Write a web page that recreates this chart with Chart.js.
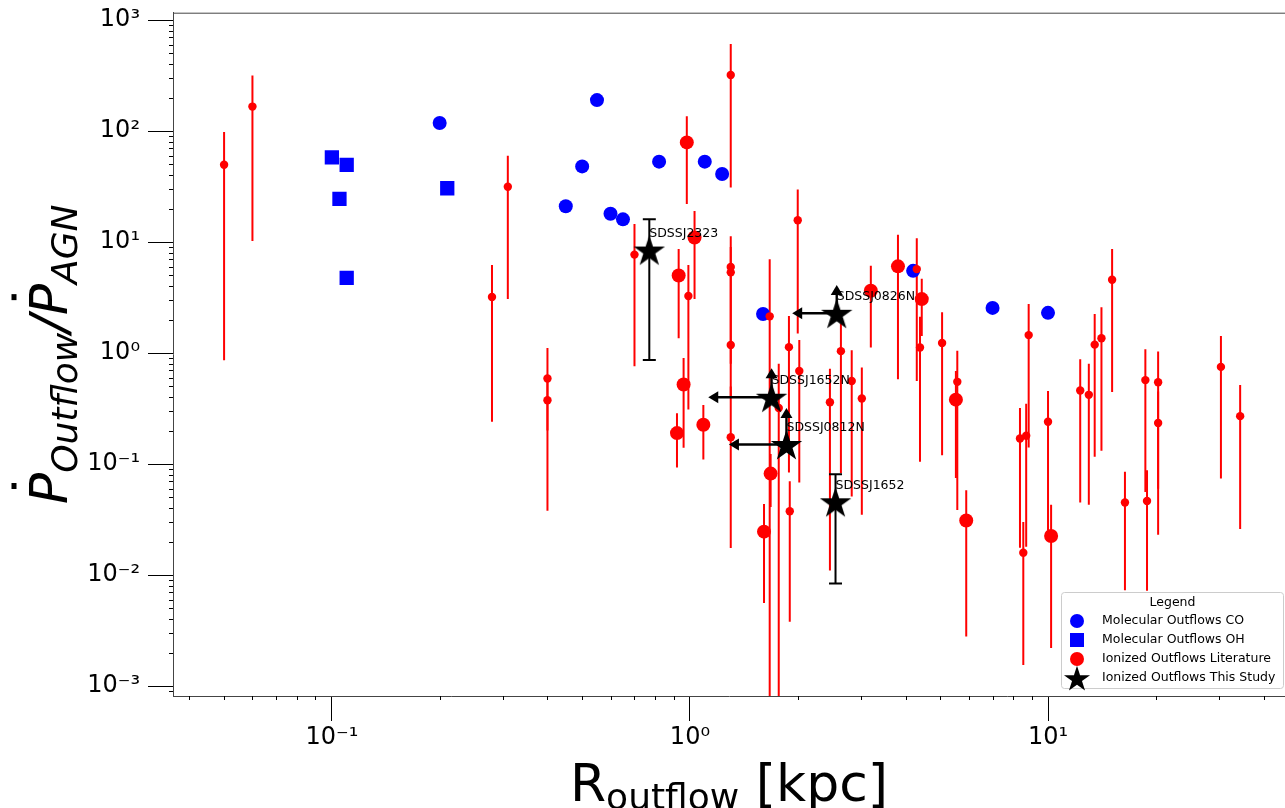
<!DOCTYPE html>
<html>
<head>
<meta charset="utf-8">
<script src="https://cdn.jsdelivr.net/npm/chart.js@4"></script>
<style>
  html, body { margin: 0; padding: 0; background: #fff; }
  #wrap { width: 1285px; height: 808px; }
</style>
</head>
<body>
<div id="wrap"><canvas id="chart" width="1285" height="808"></canvas></div>
<script>
// values (R in kpc, P = Pdot_outflow / Pdot_AGN)

// molecular outflows, CO
const coR = [0.2, 0.55, 0.50, 0.45, 0.82, 1.10, 1.23, 0.60, 0.65, 1.6, 4.2, 7.0, 10.0];
const coP = [118, 190, 48, 21, 53, 53, 41, 18, 16, 2.25, 5.5, 2.55, 2.3];

// molecular outflows, OH
const ohR = [0.1, 0.11, 0.105, 0.11, 0.21];
const ohP = [58, 49.5, 24.5, 4.75, 30.5];

// ionized outflows from the literature, with error bar ends
const litR = [0.05, 0.06, 0.28, 0.31, 0.40, 0.40, 0.70, 0.98, 1.03, 0.93, 0.99, 0.96,
  1.30, 1.30, 1.30, 1.30, 1.30, 1.67, 1.68, 1.77, 1.61, 1.89, 1.90, 2.0, 2.02, 2.46,
  2.64, 2.83, 3.02, 3.2, 3.81, 4.3, 4.44, 4.39, 5.06, 5.58, 5.53, 5.91, 8.35, 8.69,
  8.53, 8.83, 10.0, 10.2, 12.3, 13.0, 13.5, 14.1, 15.1, 16.4, 18.7, 18.9, 20.3, 20.3,
  30.4, 34.4, 1.09, 0.92];
const litP = [49.7, 166, 3.2, 31.5, 0.59, 0.375, 7.7, 79, 11, 5.0, 3.26, 0.52,
  320, 5.95, 5.33, 1.18, 0.174, 2.14, 0.082, 0.32, 0.0246, 1.13, 0.0375, 15.7, 0.69, 0.36,
  1.04, 0.56, 0.39, 3.64, 6.04, 5.7, 3.06, 1.12, 1.23, 0.55, 0.38, 0.031, 0.17, 0.18,
  0.0159, 1.45, 0.24, 0.0225, 0.46, 0.42, 1.19, 1.36, 4.57, 0.045, 0.57, 0.0465, 0.545, 0.234,
  0.75, 0.27, 0.226, 0.19];
const litLo = [0.86, 10.2, 0.24, 3.06, 0.2, 0.038, 0.76, 22, 3.06, 1.36, 0.31, 0.14,
  31, 3.0, 0.8, 0.4, 0.0175, 0.0007, 0.041, 0.0007, 0.0056, 0.084, 0.0038, 1.5, 0.068, 0.011,
  0.083, 0.051, 0.035, 1.12, 0.58, 0.56, 1.42, 0.105, 0.12, 0.0385, 0.075, 0.0028, 0.0176, 0.018,
  0.00155, 0.141, 0.025, 0.0022, 0.045, 0.043, 0.116, 0.132, 0.445, 0.0073, 0.056, 0.0072, 0.06, 0.023,
  0.074, 0.026, 0.11, 0.093];
const litHi = [98, 317, 6.2, 60, 1.11, 0.6, 14.5, 136, 19, 8.65, 6.2, 0.9,
  608, 11.3, 9, 3, 0.5, 7.0, 0.123, 0.8, 0.0436, 2.15, 0.070, 29.8, 1.31, 0.72,
  1.85, 1.06, 0.74, 6.1, 11.6, 10.8, 4.67, 2.12, 2.33, 1.05, 0.69, 0.058, 0.32, 0.35,
  0.030, 2.76, 0.455, 0.043, 0.88, 0.8, 2.25, 2.58, 8.65, 0.085, 1.08, 0.088, 1.03, 0.45,
  1.42, 0.515, 0.34, 0.286];
// true = large marker
const litBig = [0, 0, 0, 0, 0, 0, 0, 1, 1, 1, 0, 1,
  0, 0, 0, 0, 0, 0, 1, 0, 1, 0, 0, 0, 0, 0,
  0, 0, 0, 1, 1, 0, 1, 0, 0, 0, 1, 1, 0, 0,
  0, 0, 0, 1, 0, 0, 0, 0, 0, 0, 0, 0, 0, 0,
  0, 0, 1, 1];

// ionized outflows, this study
const starNames = ['SDSSJ2323', 'SDSSJ0826N', 'SDSSJ1652N', 'SDSSJ0812N', 'SDSSJ1652'];
const starR = [0.77, 2.57, 1.69, 1.86, 2.55];
const starP = [8.47, 2.28, 0.40, 0.15, 0.0457];
const starLo = [0.865, null, null, null, 0.0084];
const starHi = [16, null, null, null, 0.081];
// upper limits on R (arrow tip) and lower limits on P (arrow tip)
const starLimR = [null, 1.93, 1.125, 1.285, null];
const starLimP = [null, 4.1, 0.73, 0.32, null];

// axis ranges
const xMin = 0.036, xMax = 45.9;
const yMin = 0.000813, yMax = 1164;

const FONT = "'DejaVu Sans', sans-serif";

//superscript tick labels like 10⁻¹
const supChars = { '-': '\u207B', '0': '\u2070', '1': '\u00B9', '2': '\u00B2', '3': '\u00B3' };
const isMajor = v => {
  const e = Math.log10(v);
  return Math.abs(e - Math.round(e)) < 1e-6;
};
const powLabel = v => {
  if (!isMajor(v)) return [];
  const e = String(Math.round(Math.log10(v)));
  return '10' + e.split('').map(c => supChars[c]).join('');
};

//every 1..9 x 10^k inside the range
const logTicks = (min, max) => {
  const out = [];
  for (let k = Math.floor(Math.log10(min)); k <= Math.ceil(Math.log10(max)); k++) {
    for (let m = 1; m < 10; m++) {
      const v = parseFloat((m * Math.pow(10, k)).toPrecision(6));
      if (v >= min && v <= max) out.push({ value: v });
    }
  }
  return out;
};

//filled 5 point star path
const starPath = (g, cx, cy, r) => {
  g.beginPath();
  for (let i = 0; i < 10; i++) {
    const rr = i % 2 === 0 ? r : r * 0.382;
    const a = -Math.PI / 2 + i * Math.PI / 5;
    const px = cx + rr * Math.cos(a), py = cy + rr * Math.sin(a);
    if (i === 0) g.moveTo(px, py); else g.lineTo(px, py);
  }
  g.closePath();
};

const makeStar = r => {
  const c = document.createElement('canvas');
  c.width = c.height = Math.ceil(r * 2 + 2);
  const g = c.getContext('2d');
  starPath(g, c.width / 2, c.height / 2 + r * 0.1, r);
  g.fillStyle = '#000';
  g.fill();
  return c;
};

const toPoints = (xs, ys) => xs.map((v, i) => ({ x: v, y: ys[i] }));

//error bars, limit arrows, star labels
const errorBars = {
  id: 'errorBars',
  beforeDatasetsDraw(chart) {
    const { ctx, chartArea: a, scales: { x, y } } = chart;
    ctx.save();
    ctx.beginPath();
    ctx.rect(a.left, a.top, a.right - a.left, a.bottom - a.top);
    ctx.clip();
    ctx.strokeStyle = '#ff0000';
    ctx.lineWidth = 2;
    litR.forEach((r, i) => {
      const px = x.getPixelForValue(r);
      ctx.beginPath();
      ctx.moveTo(px, y.getPixelForValue(litLo[i]));
      ctx.lineTo(px, y.getPixelForValue(litHi[i]));
      ctx.stroke();
    });
    ctx.restore();
  },
  afterDatasetsDraw(chart) {
    const { ctx, scales: { x, y } } = chart;
    ctx.save();
    ctx.strokeStyle = '#000';
    ctx.fillStyle = '#000';
    ctx.lineWidth = 2;
    starR.forEach((r, i) => {
      const px = x.getPixelForValue(r), py = y.getPixelForValue(starP[i]);
      if (starLo[i] !== null) {
        const y1 = y.getPixelForValue(starLo[i]), y2 = y.getPixelForValue(starHi[i]);
        ctx.beginPath();
        ctx.moveTo(px, y1); ctx.lineTo(px, y2);
        ctx.moveTo(px - 6.5, y1); ctx.lineTo(px + 6.5, y1);
        ctx.moveTo(px - 6.5, y2); ctx.lineTo(px + 6.5, y2);
        ctx.stroke();
      }
      if (starLimR[i] !== null) {
        const tx = x.getPixelForValue(starLimR[i]);
        ctx.lineWidth = 2.4;
        ctx.beginPath();
        ctx.moveTo(px, py); ctx.lineTo(tx + 8, py);
        ctx.stroke();
        ctx.beginPath();
        ctx.moveTo(tx, py); ctx.lineTo(tx + 10, py - 6); ctx.lineTo(tx + 10, py + 6);
        ctx.closePath(); ctx.fill();
      }
      if (starLimP[i] !== null) {
        const ty = y.getPixelForValue(starLimP[i]);
        ctx.lineWidth = 2.4;
        ctx.beginPath();
        ctx.moveTo(px, py); ctx.lineTo(px, ty + 8);
        ctx.stroke();
        ctx.beginPath();
        ctx.moveTo(px, ty); ctx.lineTo(px - 6, ty + 10); ctx.lineTo(px + 6, ty + 10);
        ctx.closePath(); ctx.fill();
      }
      //name just above the star
      ctx.font = `12.5px ${FONT}`;
      ctx.textAlign = 'left';
      ctx.textBaseline = 'middle';
      ctx.fillText(starNames[i], px, py - 16.5);
      ctx.lineWidth = 2;
    });
    ctx.restore();
  },
  afterDraw(chart) {
    const { ctx, chartArea: a, scales: { x, y } } = chart;
    ctx.save();
    //top spine
    ctx.strokeStyle = '#444';
    ctx.lineWidth = 1;
    ctx.beginPath();
    ctx.moveTo(a.left, a.top + 0.5); ctx.lineTo(a.right, a.top + 0.5);
    ctx.stroke();
    //minor ticks
    ctx.strokeStyle = '#000';
    x.ticks.forEach(t => {
      if (isMajor(t.value)) return;
      const px = Math.round(x.getPixelForValue(t.value)) + 0.5;
      ctx.beginPath(); ctx.moveTo(px, a.bottom); ctx.lineTo(px, a.bottom + 4); ctx.stroke();
    });
    y.ticks.forEach(t => {
      if (isMajor(t.value)) return;
      const py = Math.round(y.getPixelForValue(t.value)) + 0.5;
      ctx.beginPath(); ctx.moveTo(a.left - 4, py); ctx.lineTo(a.left, py); ctx.stroke();
    });

    //x axis title: R_outflow [kpc]
    ctx.fillStyle = '#000';
    ctx.textBaseline = 'alphabetic';
    ctx.textAlign = 'left';
    const xParts = [
      { t: 'R', f: `52px ${FONT}`, dy: 0 },
      { t: 'outflow', f: `36px ${FONT}`, dy: 8 },
      { t: ' [kpc]', f: `52px ${FONT}`, dy: 0 }
    ];
    let tw = 0;
    xParts.forEach(p => { ctx.font = p.f; p.w = ctx.measureText(p.t).width; tw += p.w; });
    let cx = (a.left + a.right) / 2 - tw / 2;
    xParts.forEach(p => { ctx.font = p.f; ctx.fillText(p.t, cx, 801 + p.dy); cx += p.w; });

    //y axis title: Pdot_Outflow / Pdot_AGN (rotated)
    const yParts = [
      { t: 'P', f: `italic 52px ${FONT}`, dy: 0, dot: true },
      { t: 'Outflow', f: `italic 36px ${FONT}`, dy: 10 },
      { t: '/', f: `italic 52px ${FONT}`, dy: 0 },
      { t: 'P', f: `italic 52px ${FONT}`, dy: 0, dot: true },
      { t: 'AGN', f: `italic 36px ${FONT}`, dy: 10 }
    ];
    ctx.translate(67, (a.top + a.bottom) / 2);
    ctx.rotate(-Math.PI / 2);
    tw = 0;
    yParts.forEach(p => { ctx.font = p.f; p.w = ctx.measureText(p.t).width; tw += p.w; });
    cx = -tw / 2;
    yParts.forEach(p => {
      ctx.font = p.f;
      ctx.fillText(p.t, cx, p.dy);
      if (p.dot) ctx.fillRect(cx + p.w * 0.58 - 3, -55.5, 6, 5);
      cx += p.w;
    });
    ctx.restore();

    //legend box, lower right
    ctx.save();
    ctx.fillStyle = 'rgba(255,255,255,0.8)';
    ctx.strokeStyle = '#cccccc';
    ctx.lineWidth = 1;
    ctx.beginPath();
    ctx.roundRect(1061.5, 592.5, 222, 96, 3);
    ctx.fill(); ctx.stroke();
    ctx.fillStyle = '#000';
    ctx.font = `12.5px ${FONT}`;
    ctx.textBaseline = 'middle';
    ctx.textAlign = 'center';
    ctx.fillText('Legend', 1172.5, 602.5);
    ctx.textAlign = 'left';
    const legendRows = chart.data.datasets.map(d => d.label);
    const rowY = [621, 640, 659, 678];
    const mx = 1077;
    legendRows.forEach((lab, i) => {
      const yy = rowY[i];
      if (i === 0 || i === 2) {
        ctx.fillStyle = i === 0 ? '#0000ff' : '#ff0000';
        ctx.beginPath(); ctx.arc(mx, yy, 7, 0, Math.PI * 2); ctx.fill();
      } else if (i === 1) {
        ctx.fillStyle = '#0000ff';
        ctx.fillRect(mx - 7, yy - 7, 14, 14);
      } else {
        ctx.fillStyle = '#000';
        starPath(ctx, mx, yy + 1.5, 13.7);
        ctx.fill();
      }
      ctx.fillStyle = '#000';
      ctx.fillText(lab, 1102, yy);
    });
    ctx.restore();
  }
};

const starImg = makeStar(16.5);

const axisCommon = {
  type: 'logarithmic',
  border: { display: true, color: '#444', width: 1 },
  grid: {
    drawOnChartArea: false,
    drawTicks: true,
    tickLength: 25,
    tickWidth: 1,
    tickColor: c => (c.tick && isMajor(c.tick.value)) ? '#000' : 'rgba(0,0,0,0)'
  }
};

new Chart(document.getElementById('chart'), {
  type: 'scatter',
  data: {
    datasets: [
      {
        label: 'Molecular Outflows CO',
        data: toPoints(coR, coP),
        pointStyle: 'circle',
        pointRadius: 7,
        backgroundColor: '#0000ff',
        borderWidth: 0,
        order: 4
      },
      {
        label: 'Molecular Outflows OH',
        data: toPoints(ohR, ohP),
        pointStyle: 'rect',
        pointRadius: 10.1,
        backgroundColor: '#0000ff',
        borderWidth: 0,
        order: 3
      },
      {
        label: 'Ionized Outflows Literature',
        data: toPoints(litR, litP),
        pointStyle: 'circle',
        pointRadius: litBig.map(b => b ? 7 : 4.2),
        backgroundColor: '#ff0000',
        borderWidth: 0,
        order: 2
      },
      {
        label: 'Ionized Outflows This Study',
        data: toPoints(starR, starP),
        pointStyle: starImg,
        pointRadius: 16,
        backgroundColor: '#000',
        order: 1
      }
    ]
  },
  options: {
    responsive: false,
    animation: false,
    devicePixelRatio: 1,
    events: [],
    layout: { autoPadding: false, padding: { top: 12.7, right: 0, bottom: 0, left: 0 } },
    plugins: {
      legend: { display: false },
      tooltip: { enabled: false },
      title: { display: false }
    },
    scales: {
      x: {
        ...axisCommon,
        position: 'bottom',
        min: xMin,
        max: xMax,
        afterBuildTicks: s => { s.ticks = logTicks(xMin, xMax); },
        afterFit: s => { s.height = 112; s.paddingLeft = 0; s.paddingRight = 0; },
        ticks: {
          autoSkip: false, maxRotation: 0, minRotation: 0, padding: 2,
          color: '#000', font: { family: FONT, size: 24 },
          callback: v => powLabel(v)
        }
      },
      y: {
        ...axisCommon,
        position: 'left',
        min: yMin,
        max: yMax,
        afterBuildTicks: s => { s.ticks = logTicks(yMin, yMax); },
        afterFit: s => { s.width = 173; s.paddingTop = 0; s.paddingBottom = 0; },
        ticks: {
          autoSkip: false, padding: 8,
          color: '#000', font: { family: FONT, size: 24 },
          callback: v => powLabel(v)
        }
      }
    }
  },
  plugins: [errorBars]
});
</script>
</body>
</html>
